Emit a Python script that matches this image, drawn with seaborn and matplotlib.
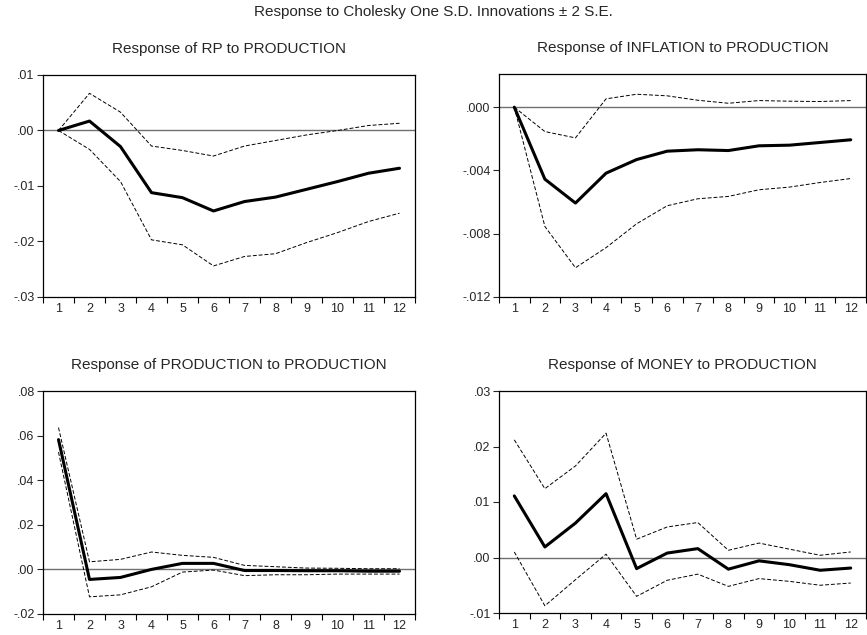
import matplotlib
matplotlib.use("Agg")
import matplotlib.pyplot as plt
import matplotlib.ticker as mticker
import seaborn as sns
import pandas as pd
import numpy as np

periods = list(range(1, 13))

rp_mid = [0.0, 0.0017, -0.0029, -0.0112, -0.0121, -0.0145, -0.0128, -0.0120, -0.0106, -0.0092, -0.0077, -0.0068]
rp_up = [0.0, 0.0067, 0.0033, -0.0028, -0.0036, -0.0046, -0.0028, -0.0018, -0.0008, 0.0000, 0.0009, 0.0013]
rp_lo = [0.0, -0.0034, -0.0092, -0.0197, -0.0206, -0.0244, -0.0227, -0.0222, -0.0202, -0.0184, -0.0164, -0.0149]

inf_mid = [0.0, -0.00455, -0.00606, -0.00417, -0.00331, -0.00278, -0.00269, -0.00274, -0.00244, -0.00240, -0.00223, -0.00206]
inf_up = [0.0, -0.00154, -0.00194, 0.00053, 0.00082, 0.00072, 0.00044, 0.00025, 0.00042, 0.00038, 0.00036, 0.00042]
inf_lo = [0.0, -0.00754, -0.01015, -0.00888, -0.00737, -0.00623, -0.00579, -0.00564, -0.00522, -0.00505, -0.00476, -0.00451]

prod_mid = [0.0582, -0.0045, -0.0036, 0.0000, 0.0027, 0.0027, -0.0005, -0.0005, -0.0006, -0.0006, -0.0008, -0.0008]
prod_up = [0.0636, 0.0034, 0.0045, 0.0078, 0.0063, 0.0054, 0.0018, 0.0012, 0.0006, 0.0005, 0.0003, 0.0003]
prod_lo = [0.0526, -0.0123, -0.0114, -0.0078, -0.0012, -0.0003, -0.0028, -0.0024, -0.0024, -0.0021, -0.0021, -0.0021]

money_mid = [0.0111, 0.0019, 0.0062, 0.0115, -0.0020, 0.0008, 0.0016, -0.0021, -0.0006, -0.0013, -0.0023, -0.0019]
money_up = [0.0212, 0.0124, 0.0165, 0.0224, 0.0033, 0.0055, 0.0063, 0.0013, 0.0026, 0.0015, 0.0004, 0.0010]
money_lo = [0.0010, -0.0087, -0.0040, 0.0006, -0.0070, -0.0041, -0.0030, -0.0052, -0.0038, -0.0043, -0.0050, -0.0046]

main_title = "Response to Cholesky One S.D. Innovations \u00b1 2 S.E."
panel_titles = ["Response of RP to PRODUCTION", "Response of INFLATION to PRODUCTION",
                "Response of PRODUCTION to PRODUCTION", "Response of MONEY to PRODUCTION"]
y_limits = [(-0.03, 0.01), (-0.012, 0.0021), (-0.02, 0.08), (-0.01, 0.03)]
y_ticks = [[-0.03, -0.02, -0.01, 0.0, 0.01],
           [-0.012, -0.008, -0.004, 0.0],
           [-0.02, 0.0, 0.02, 0.04, 0.06, 0.08],
           [-0.01, 0.0, 0.01, 0.02, 0.03]]
y_decimals = [2, 3, 2, 2]

sns.set_style("ticks")
plt.rcParams['font.family'] = ['Liberation Sans', 'DejaVu Sans']

fig = plt.figure(figsize=(8.67, 6.35), dpi=100)
W, H = 867.0, 635.0
boxes = [(43, 75, 415, 297), (499, 74, 866, 297), (43, 391, 415, 614), (499, 391, 866, 613)]

series = [(rp_mid, rp_up, rp_lo), (inf_mid, inf_up, inf_lo),
          (prod_mid, prod_up, prod_lo), (money_mid, money_up, money_lo)]


def make_fmt(dec):
    def f(v, pos):
        s = f"{v:.{dec}f}"
        if s.startswith("-0"):
            s = "-" + s[2:]
        elif s.startswith("0"):
            s = s[1:]
        if s.startswith("-") and float(s) == 0:
            s = s[1:]
        return s
    return mticker.FuncFormatter(f)


for i, (box, (mid, up, lo)) in enumerate(zip(boxes, series)):
    l, t, r, b = box
    ax = fig.add_axes([l / W, 1 - b / H, (r - l) / W, (b - t) / H])
    df = pd.DataFrame({"period": periods, "mid": mid, "up": up, "lo": lo})
    ax.axhline(0, color="#707070", lw=1.0, zorder=1)
    sns.lineplot(data=df, x="period", y="up", ax=ax, color="black", lw=0.7,
                 linestyle=(0, (4, 2)), zorder=2)
    sns.lineplot(data=df, x="period", y="lo", ax=ax, color="black", lw=0.7,
                 linestyle=(0, (4, 2)), zorder=2)
    sns.lineplot(data=df, x="period", y="mid", ax=ax, color="black", lw=2.2, zorder=3)
    ax.set_xlim(0.5, 12.5)
    ax.set_ylim(*y_limits[i])
    ax.set_yticks(y_ticks[i])
    ax.yaxis.set_major_formatter(make_fmt(y_decimals[i]))
    ax.set_xticks(np.arange(0.5, 13.0, 1.0))
    ax.set_xticklabels([])
    ax.set_xticks(periods, minor=True)
    ax.set_xticklabels([str(p) for p in periods], minor=True)
    ax.tick_params(axis="x", which="major", length=4, width=0.8, direction="out", color="black")
    ax.tick_params(axis="x", which="minor", length=0, labelsize=9, pad=4)
    ax.tick_params(axis="y", length=4, width=0.8, direction="out", labelsize=9, pad=2)
    ax.set_xlabel("")
    ax.set_ylabel("")
    for sp in ax.spines.values():
        sp.set_visible(True)
        sp.set_color("black")
        sp.set_linewidth(0.9)
    ax.set_title(panel_titles[i], fontsize=11, pad=16)

fig.text(0.5, 1 - 12 / H, main_title, ha="center", va="center", fontsize=11)
fig.savefig("out.png", dpi=100)
